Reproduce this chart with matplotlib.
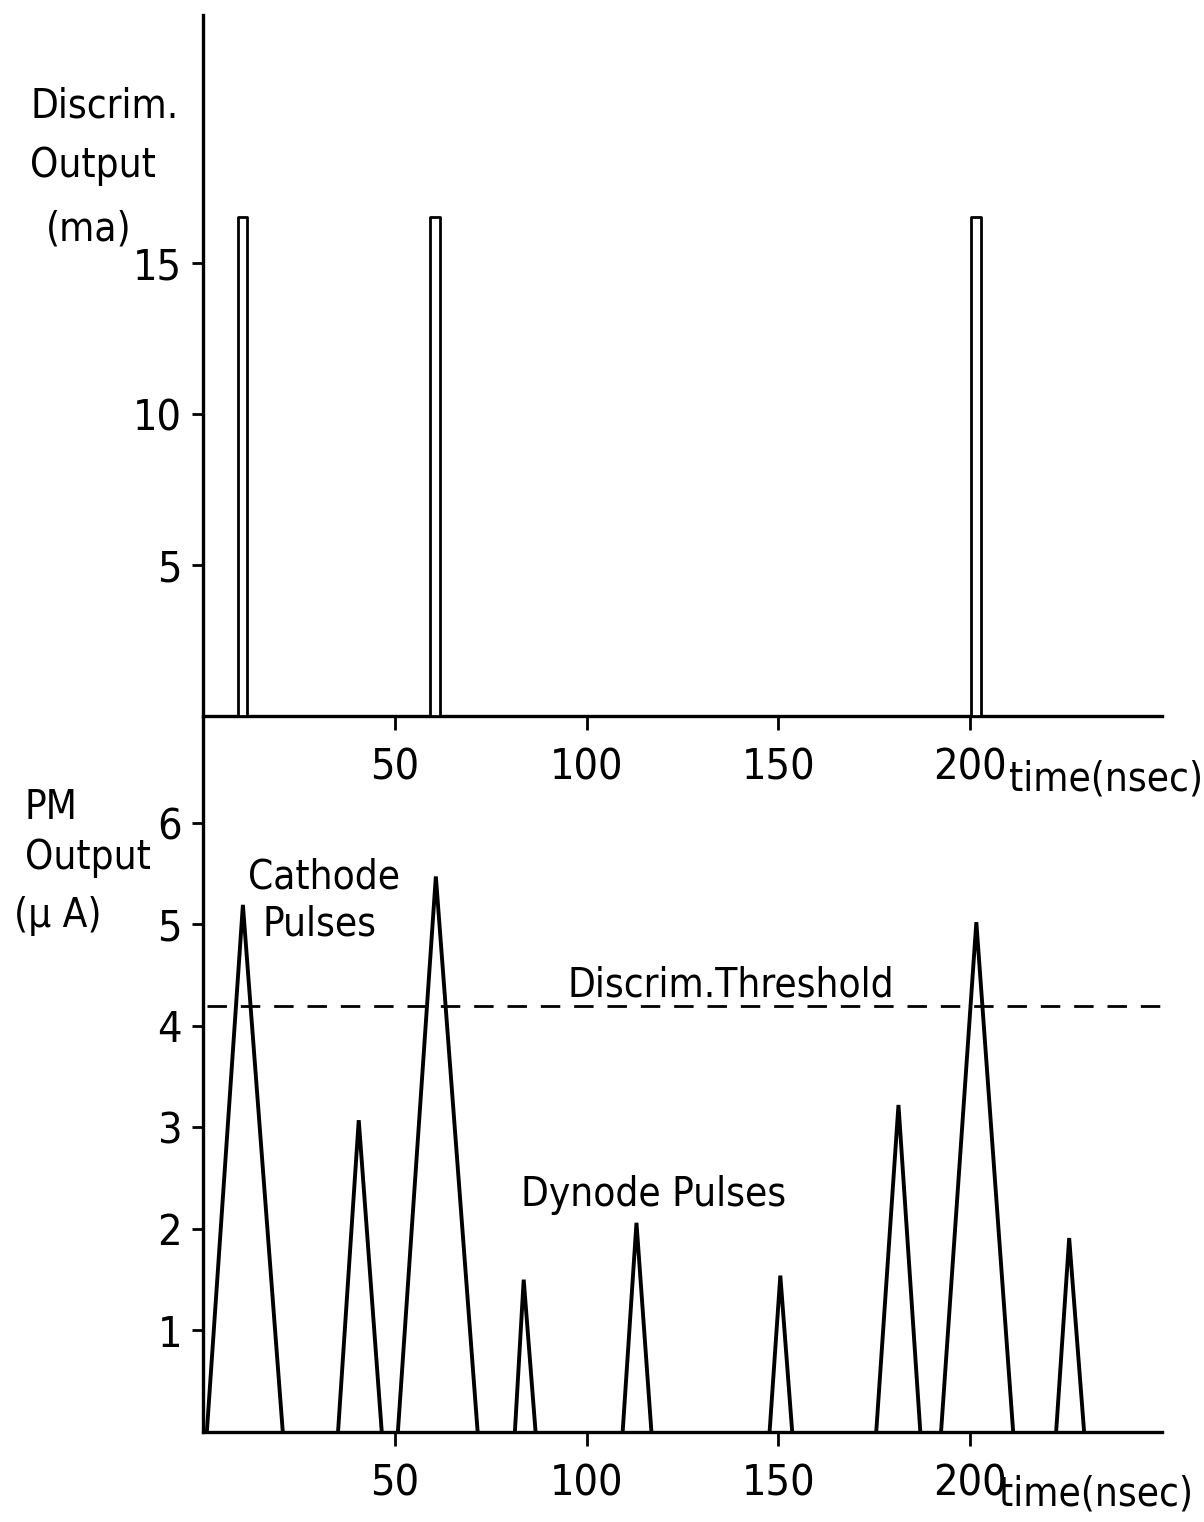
# Discriminator output vs photomultiplier output pulses
import matplotlib.pyplot as plt

# Discriminator output pulses (top panel)
discrim_times = [10.2, 60.5, 201.5]       # nsec, pulse centre
discrim_height = [16.5, 16.5, 16.5]      # ma
discrim_width = 2.4                       # nsec

# PM output pulses (bottom panel): start, peak, end times and peak heights
pm_start = [1.0, 35.2, 50.8, 81.3, 109.4, 147.7, 175.5, 192.4, 222.4]
pm_peak = [10.4, 40.6, 60.7, 83.6, 113.0, 150.5, 181.3, 201.6, 225.8]
pm_end = [20.8, 46.6, 71.6, 86.7, 116.9, 153.6, 187.0, 211.2, 229.7]
pm_height = [5.19, 3.07, 5.47, 1.50, 2.06, 1.54, 3.22, 5.02, 1.91]

threshold = 4.19
x_ticks = [50, 100, 150, 200]
top_y_ticks = [5, 10, 15]
bot_y_ticks = [1, 2, 3, 4, 5, 6]

plt.rcParams['font.family'] = ['DejaVu Sans']
plt.rcParams['font.stretch'] = 'condensed'
FS = 29
TFS = 31

fig = plt.figure(figsize=(12.04, 15.22), dpi=100)
left = 203 / 1204
width = (1162 - 203) / 1204
ax_top = fig.add_axes([left, 1 - 716 / 1522, width, 701 / 1522])
ax_bot = fig.add_axes([left, 1 - 1432 / 1522, width, 714 / 1522])

for ax in (ax_top, ax_bot):
    ax.spines['top'].set_visible(False)
    ax.spines['right'].set_visible(False)
    ax.spines['left'].set_linewidth(2.4)
    ax.spines['bottom'].set_linewidth(2.4)
    ax.set_xlim(0, 250)
    ax.set_xticks(x_ticks)
    ax.tick_params(axis='x', direction='out', length=10, width=2, pad=12, labelsize=TFS)
    ax.tick_params(axis='y', direction='out', length=8, width=2, pad=7, labelsize=TFS)
    ax.set_facecolor('none')

# top panel
ax_top.set_ylim(0, 23.2)
ax_top.set_yticks(top_y_ticks)
ax_top.bar(discrim_times, discrim_height, width=discrim_width, facecolor='white',
           edgecolor='black', linewidth=2.0, joinstyle='round', zorder=3)
ax_top.text(210, -0.091, "time(nsec)", transform=ax_top.get_xaxis_transform(),
            fontsize=FS, ha='left', va='center')

# bottom panel
ax_bot.set_ylim(0, 7.03)
ax_bot.set_yticks(bot_y_ticks)
for s, p, e, h in zip(pm_start, pm_peak, pm_end, pm_height):
    ax_bot.plot([s, p, e], [0, h, 0], color='black', linewidth=2.8, solid_joinstyle='miter')
ax_bot.plot([1, 250], [threshold, threshold], color='black', linewidth=2.0, dashes=(7, 5))
ax_bot.text(207.5, -0.088, "time(nsec)", transform=ax_bot.get_xaxis_transform(),
            fontsize=FS, ha='left', va='center')

ax_bot.text(11.7, 5.46, "Cathode", fontsize=FS, ha='left', va='center')
ax_bot.text(15.4, 5.0, "Pulses", fontsize=FS, ha='left', va='center')
ax_bot.text(95, 4.40, "Discrim.Threshold", fontsize=FS, ha='left', va='center')
ax_bot.text(83, 2.33, "Dynode Pulses", fontsize=FS, ha='left', va='center')

# y labels, placed in figure pixels
def fig_text(x, y, s):
    fig.text(x / 1204, 1 - y / 1522, s, fontsize=FS, ha='left', va='center')

fig_text(30, 107, "Discrim.")
fig_text(30, 166, "Output")
fig_text(46, 230, "(ma)")
fig_text(25, 808, "PM")
fig_text(25, 858, "Output")
fig_text(14, 916, "(μ A)")

fig.savefig("out.png", dpi=100)
